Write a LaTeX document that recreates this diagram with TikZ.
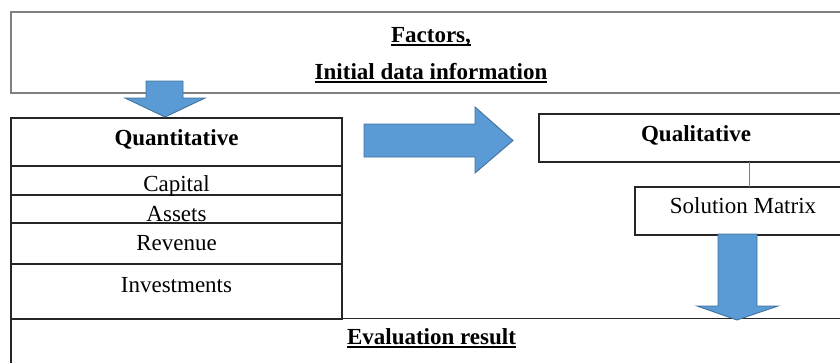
\documentclass[tikz,border=0pt]{standalone}
\usepackage{fontspec}
\setmainfont{Liberation Serif}
\definecolor{arrowfill}{HTML}{5B9BD5}
\definecolor{arrowline}{HTML}{41719C}
\definecolor{boxgray}{HTML}{808080}
\definecolor{linkblue}{HTML}{4F86C0}
% underline drawn as a rule under the whole word group
\newcommand{\undl}[1]{\setbox0\hbox{#1}\rlap{\vrule width\wd0 height -2.4pt depth 4.2pt}\box0}

\begin{document}
\begin{tikzpicture}[x=1pt,y=-1pt,
  every node/.style={inner sep=0pt, outer sep=0pt},
  txt/.style={anchor=base, font=\fontsize{23}{27}\selectfont},
  cell/.style={draw=black!85, line width=1.1pt, anchor=north west},
  topcell/.style={draw=boxgray, line width=1.3pt, anchor=north west},
  link/.style={draw=linkblue, line width=0.9pt},
  blockarrow/.style={fill=arrowfill, draw=arrowline, line width=0.9pt, line join=miter}]
\useasboundingbox (0,0) rectangle (840,362);
\clip (0,0) rectangle (840,362);

% header box
\node[topcell, minimum width=840, minimum height=81] (head) at (11,12) {};
\node[txt] (head1) at (431,42) {\undl{\bfseries Factors,}};
\node[txt] (head2) at (431,79) {\undl{\bfseries Initial data information}};

% quantitative column
\node[cell, minimum width=331, minimum height=48] (quant) at (11,118) {};
\node[cell, minimum width=331, minimum height=29] (cap)   at (11,166) {};
\node[cell, minimum width=331, minimum height=28] (ass)   at (11,195) {};
\node[cell, minimum width=331, minimum height=41] (rev)   at (11,223) {};
\node[cell, minimum width=331, minimum height=55] (inv)   at (11,264) {};
\node[txt] (quant-t) at (176.5,145) {\bfseries Quantitative};
\node[txt] (cap-t)   at (176.5,191.5) {Capital};
\node[txt] (ass-t)   at (176.5,221) {Assets};
\node[txt] (rev-t)   at (176.5,250) {Revenue};
\node[txt] (inv-t)   at (176.5,292) {Investments};

% qualitative column
\node[cell, minimum width=314, minimum height=48] (qual) at (539,114) {};
\node[txt] (qual-t) at (696,141) {\bfseries Qualitative};
\node[cell, minimum width=228, minimum height=48] (sol) at (635,187) {};
\node[txt] (sol-t) at (743,213) {Solution Matrix};
\draw[link] ([xshift=114pt]sol.north west) -- ([xshift=114pt]sol.north west |- qual.south);

% result box
\node[cell, minimum width=850, minimum height=60] (eval) at (11,318.5) {};
\node[txt] (eval-t) at (431.5,344) {\undl{\bfseries Evaluation result}};

% block arrows
\draw[blockarrow] (146,81) -- (183,81) -- (183,98) -- (205,98) -- (165,117)
  -- (125,98) -- (146,98) -- cycle;
\draw[blockarrow] (364,124) -- (475,124) -- (475,107) -- (513,140.5)
  -- (475,173) -- (475,157) -- (364,157) -- cycle;
\draw[blockarrow] (718,234) -- (757,234) -- (757,306) -- (778,306) -- (737,320)
  -- (697,306) -- (718,306) -- cycle;
\end{tikzpicture}
\end{document}
